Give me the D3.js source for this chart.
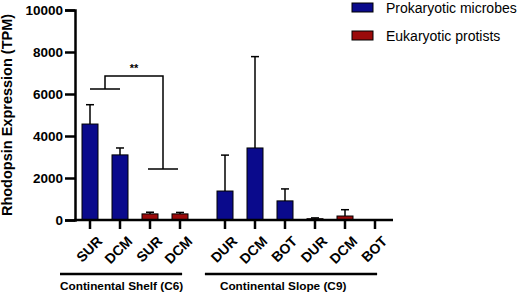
<!DOCTYPE html>
<html>
<head>
<meta charset="utf-8">
<script src="https://cdn.jsdelivr.net/npm/d3@7"></script>
<style>
  body { margin: 0; background: #fff; }
  text { font-family: Arial, "Liberation Sans", sans-serif; }
</style>
</head>
<body>
<div id="container"></div>
<script>
let w = 520;
let h = 294;

// data
let samples = ["SUR", "DCM", "SUR", "DCM", "DUR", "DCM", "BOT", "DUR", "DCM", "BOT"];
let slots = [0, 1, 2, 3, 4.5, 5.5, 6.5, 7.5, 8.5, 9.5];
let kinds = ["pro", "pro", "euk", "euk", "pro", "pro", "pro", "euk", "euk", "euk"];
let means = [4570, 3100, 290, 290, 1380, 3430, 910, 60, 190, 0];
let errors = [920, 330, 80, 70, 1710, 4350, 570, 40, 300, 0];
let yTicks = [0, 2000, 4000, 6000, 8000, 10000];
let legendNames = ["Prokaryotic microbes", "Eukaryotic protists"];
let groupNames = ["Continental Shelf (C6)", "Continental Slope (C9)"];
let groupSpans = [[-1, 3.07], [3.83, 9.57]];
let groupLabelAt = [-1, 4.33];
// significance bracket levels (TPM)
let bracketLevels = [6240, 6860, 2430];

let colors = { pro: "#0a0a8c", euk: "#9b0a0a" };

let viz = d3.select("#container")
  .append("svg")
    .attr("width", w)
    .attr("height", h)
;

let xScale = d3.scaleLinear().domain([0, 1]).range([90, 120]);
let yScale = d3.scaleLinear().domain([0, 10000]).range([220, 10]);
let barW = 16;

// bars
let bars = viz.append("g").attr("class", "bars");
bars.selectAll("rect").data(means).enter()
  .append("rect")
    .attr("x", function(d, i){ return xScale(slots[i]) - barW/2; })
    .attr("y", function(d){ return yScale(d); })
    .attr("width", barW)
    .attr("height", function(d){ return yScale(0) - yScale(d); })
    .attr("fill", function(d, i){ return colors[kinds[i]]; })
    .attr("stroke", "#000")
    .attr("stroke-width", 1)
;

// error bars (upper only)
let errG = viz.append("g").attr("class", "errors").attr("stroke", "#000").attr("stroke-width", 1.5);
means.forEach(function(m, i){
  if (errors[i] <= 0) return;
  let cx = xScale(slots[i]);
  errG.append("line")
    .attr("x1", cx).attr("x2", cx)
    .attr("y1", yScale(m)).attr("y2", yScale(m + errors[i]));
  errG.append("line")
    .attr("x1", cx - 4).attr("x2", cx + 4)
    .attr("y1", yScale(m + errors[i])).attr("y2", yScale(m + errors[i]));
});

// y axis
let yAxis = d3.axisLeft(yScale).tickValues(yTicks).tickSize(10).tickPadding(2).tickFormat(d3.format("d"));
let yAxisGroup = viz.append("g").attr("class", "yaxis")
  .attr("transform", "translate(75, 0)")
  .call(yAxis);
yAxisGroup.select(".domain").attr("stroke-width", 2.5);
yAxisGroup.selectAll(".tick line").attr("stroke-width", 2.5);
yAxisGroup.selectAll("text")
  .attr("font-size", 13.5).attr("font-weight", "bold").attr("fill", "#000")
  .attr("font-family", "Arial, 'Liberation Sans', sans-serif");

// x axis line + ticks
let xg = viz.append("g").attr("class", "xaxis");
xg.append("line")
  .attr("x1", 74).attr("x2", xScale(9.5) + 18)
  .attr("y1", 220).attr("y2", 220)
  .attr("stroke", "#000").attr("stroke-width", 2.5);
slots.forEach(function(s, i){
  let cx = xScale(s);
  xg.append("line")
    .attr("x1", cx).attr("x2", cx)
    .attr("y1", 220).attr("y2", 229)
    .attr("stroke", "#000").attr("stroke-width", 2.5);
  xg.append("text")
    .text(samples[i])
    .attr("transform", "translate(" + (cx + 6) + ", 235) rotate(-45)")
    .attr("text-anchor", "end")
    .attr("dy", "0.72em")
    .attr("font-size", 14).attr("font-weight", "bold");
});

// group lines and names
groupNames.forEach(function(name, i){
  let x1 = xScale(groupSpans[i][0]);
  let x2 = xScale(groupSpans[i][1]);
  viz.append("line")
    .attr("x1", x1).attr("x2", x2)
    .attr("y1", 274).attr("y2", 274)
    .attr("stroke", "#000").attr("stroke-width", 2.5);
  viz.append("text")
    .text(name)
    .attr("x", xScale(groupLabelAt[i])).attr("y", 290)
    .attr("font-size", 11.8).attr("font-weight", "bold");
});

// y label
viz.append("text")
  .text("Rhodopsin Expression (TPM)")
  .attr("transform", "translate(12, 115) rotate(-90)")
  .attr("text-anchor", "middle")
  .attr("font-size", 14.5).attr("font-weight", "bold");

// significance bracket
let br = viz.append("g").attr("stroke", "#000").attr("stroke-width", 1.5).attr("fill", "none");
let leftMid = (xScale(0) + xScale(1)) / 2;
let rightMid = (xScale(2) + xScale(3)) / 2 - 2;
br.append("path").attr("d",
  "M" + xScale(0) + "," + yScale(bracketLevels[0]) + "H" + xScale(1) +
  "M" + leftMid + "," + yScale(bracketLevels[0]) + "V" + yScale(bracketLevels[1]) +
  "H" + rightMid + "V" + yScale(bracketLevels[2]) +
  "M" + (xScale(2) - 2) + "," + yScale(bracketLevels[2]) + "H" + (xScale(3) - 2));
viz.append("text")
  .text("**")
  .attr("x", (leftMid + rightMid) / 2).attr("y", yScale(bracketLevels[1]) - 4)
  .attr("text-anchor", "middle")
  .attr("font-size", 11).attr("font-weight", "bold");

// legend
let legend = viz.append("g").attr("class", "legend");
legendNames.forEach(function(name, i){
  legend.append("rect")
    .attr("x", 352).attr("y", 3 + i * 28)
    .attr("width", 21).attr("height", 9)
    .attr("fill", i == 0 ? colors.pro : colors.euk)
    .attr("stroke", "#000").attr("stroke-width", 1);
  legend.append("text")
    .text(name)
    .attr("x", 386).attr("y", 8 + i * 28)
    .attr("dy", "0.35em")
    .attr("font-size", 14);
});
</script>
</body>
</html>
